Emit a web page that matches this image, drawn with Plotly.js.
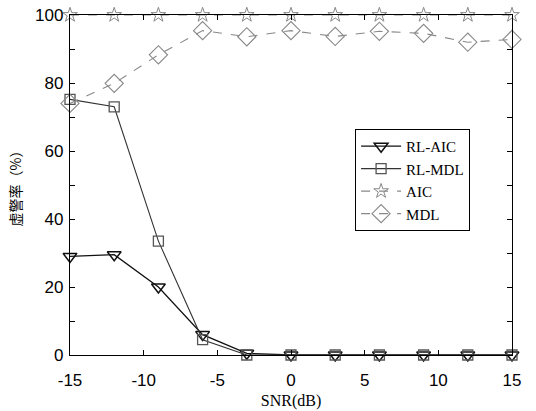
<!DOCTYPE html>
<html><head><meta charset="utf-8">
<script src="https://cdn.plot.ly/plotly-3.0.1.min.js"></script>
<style>body{margin:0;background:#fff}#c{width:536px;height:411px}</style>
</head><body><div id="c"></div>
<script>
const snr = [-15,-12,-9,-6,-3,0,3,6,9,12,15];
const rlAic = [29,29.5,20,6,0.5,0,0,0,0,0,0];
const rlMdl = [75.2,73,33.5,4.5,0,0,0,0,0,0,0];
const aic = [100,100,100,100,100,100,100,100,100,100,100];
const mdl = [74,79.9,88.3,95.4,93.6,95.4,93.7,95.2,94.6,92,92.8];
const xTicks = [-15,-10,-5,0,5,10,15];
const xTickLabels = ['-15','-10','-5','0','5','10','15'];
const yTicks = [0,20,40,60,80,100];

const traces = [
 {x:snr,y:rlAic,name:'RL-AIC',mode:'lines+markers',line:{color:'#111',width:1.3},
  marker:{symbol:'triangle-down-open',size:12,color:'#111',line:{width:1.5}},cliponaxis:false},
 {x:snr,y:rlMdl,name:'RL-MDL',mode:'lines+markers',line:{color:'#333',width:1.1},
  marker:{symbol:'square-open',size:10,color:'#555',line:{width:1.3}},cliponaxis:false},
 {x:snr,y:aic,name:'AIC',mode:'lines+markers',line:{color:'#888',width:1.1,dash:'dash'},
  marker:{symbol:'star-open',size:11,color:'#888',line:{width:1}},cliponaxis:false},
 {x:snr,y:mdl,name:'MDL',mode:'lines+markers',line:{color:'#888',width:1.1,dash:'dash'},
  marker:{symbol:'diamond-open',size:14,color:'#888',line:{width:1.1}},cliponaxis:false}
];
const layout = {
 width:536,height:411,paper_bgcolor:'#fff',plot_bgcolor:'#fff',
 margin:{l:70,r:24,t:15,b:56},
 showlegend:true,
 legend:{x:0.645,y:0.665,xanchor:'left',yanchor:'top',bordercolor:'#000',borderwidth:1,bgcolor:'#fff',
   font:{family:'Liberation Serif, Times New Roman, serif',size:15,color:'#000'},tracegroupgap:0,itemwidth:40},
 xaxis:{range:[-15,15],tickvals:xTicks,ticktext:xTickLabels,ticks:'inside',ticklen:5,tickcolor:'#000',showline:true,linecolor:'#000',linewidth:1.2,mirror:'ticks',
   showgrid:false,zeroline:false,ticklabelstandoff:9,tickfont:{family:'Liberation Sans, Arial, sans-serif',size:17,color:'#000'},
   title:{text:'SNR(dB)',font:{family:'Liberation Serif, Times New Roman, serif',size:16,color:'#000'},standoff:6}},
 yaxis:{range:[0,100],tickvals:yTicks,ticks:'inside',ticklen:5,tickcolor:'#000',showline:true,linecolor:'#000',linewidth:1.2,mirror:'ticks',
   minor:{dtick:10,ticks:'inside',ticklen:5,tickcolor:'#000'},
   showgrid:false,zeroline:false,ticklabelstandoff:2,tickfont:{family:'Liberation Sans, Arial, sans-serif',size:17,color:'#000'},
   title:{text:'虚警率（%）',font:{family:'Noto Sans CJK SC, sans-serif',size:14,color:'#000'},standoff:10}}
};
Plotly.newPlot('c',traces,layout,{displayModeBar:false,staticPlot:true});
</script></body></html>
